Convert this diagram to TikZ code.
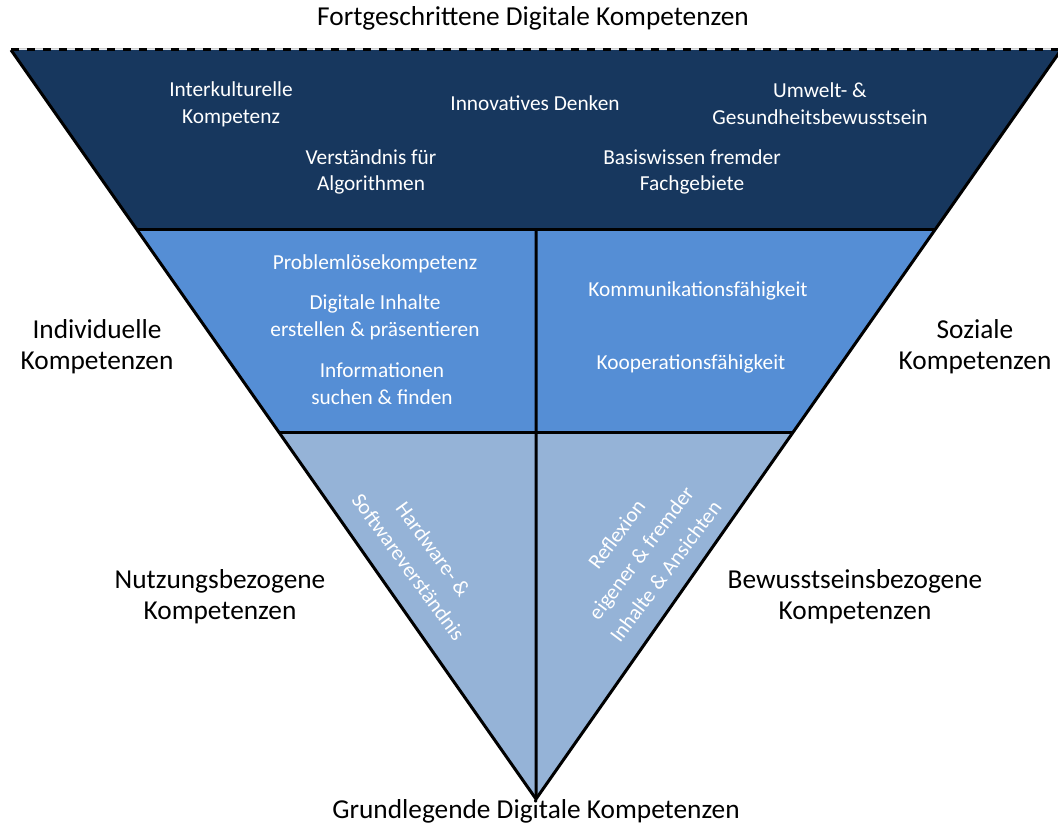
\documentclass[tikz,border=0pt]{standalone}
\usepackage{fontspec}
\setmainfont{Carlito}
\usepackage{xcolor}
\usetikzlibrary{positioning,calc}
\definecolor{darkband}{HTML}{17375E}
\definecolor{midband}{HTML}{558ED5}
\definecolor{lightband}{HTML}{95B3D7}

\begin{document}
\begin{tikzpicture}[x=0.75pt, y=-0.75pt,
        edge/.style={line width=2.25pt},
        toplimit/.style={line width=2.25pt, dash pattern=on 6pt off 6pt},
        inlabel/.style={text=white, align=center, inner sep=0pt, font=\fontsize{16}{20}\selectfont},
        tiltlabel/.style={inlabel, font=\fontsize{16}{23}\selectfont},
        outlabel/.style={align=center, inner sep=0pt, font=\fontsize{20.5}{23}\selectfont}
    ]
        \useasboundingbox (0,0) rectangle (1058,827);
        \coordinate (tl) at (11,50);
        \coordinate (tr) at (1061,50);
        \coordinate (tip) at (536,799);
        \coordinate (ml) at ($(tl)!0.239!(tip)$);
        \coordinate (mr) at ($(tr)!0.239!(tip)$);
        \coordinate (ll) at ($(tl)!0.511!(tip)$);
        \coordinate (lr) at ($(tr)!0.511!(tip)$);
        \coordinate (mm) at ($(ml)!0.5!(mr)$);

        % bands
        \fill [darkband] (tl) -- (tr) -- (mr) -- (ml) -- cycle;
        \fill [midband] (ml) -- (mr) -- (lr) -- (ll) -- cycle;
        \fill [lightband] (ll) -- (lr) -- (tip) -- cycle;

        \draw [edge] (ml) -- (mr);
        \draw [edge] (ll) -- (lr);
        \draw [edge] (mm) -- (tip);
        \draw [edge, line join=miter] (tl) -- (tip) -- (tr);
        \draw [gray!40, line width=0.5pt] ($(tl)+(0,-1.5)$) -- ($(tr)+(0,-1.5)$);
        \draw [toplimit] (tl) -- (tr);

        % outer labels
        \node [outlabel] (adv) at (533,18) {Fortgeschrittene Digitale Kompetenzen};
        \node [outlabel] (basic) at (536,811) {Grundlegende Digitale Kompetenzen};
        \node [outlabel] (indiv) at (97,347) {Individuelle\\Kompetenzen};
        \node [outlabel] (social) at (975,347) {Soziale\\Kompetenzen};
        \node [outlabel] (usage) at (220,597) {Nutzungsbezogene\\Kompetenzen};
        \node [outlabel] (aware) at (855,597) {Bewusstseinsbezogene\\Kompetenzen};

        % top band
        \node [inlabel] (intercult) at (231,104) {Interkulturelle\\Kompetenz};
        \node [inlabel] (innov) at (535,103) {Innovatives Denken};
        \node [inlabel] (environ) at (820,104) {Umwelt- \&\\Gesundheitsbewusstsein};
        \node [inlabel] (algo) at (371,172) {Verständnis für\\Algorithmen};
        \node [inlabel] (domain) at (692,172) {Basiswissen fremder\\Fachgebiete};

        % middle band
        \node [inlabel] (problem) at (375,264) {Problemlösekompetenz};
        \node [inlabel] (content) at (375,317) {Digitale Inhalte\\erstellen \& präsentieren};
        \node [inlabel] (search) at (382,384) {Informationen\\suchen \& finden};
        \node [inlabel] (commu) at (698,291) {Kommunikationsfähigkeit};
        \node [inlabel] (coop) at (691,364) {Kooperationsfähigkeit};

        % bottom band
        \node [tiltlabel, rotate=-54] (hwsw) at (421,558) {Hardware- \&\\Softwareverständnis};
        \node [tiltlabel, rotate=53] (reflect) at (641,553) {Reflexion\\eigener \& fremder\\Inhalte \& Ansichten};
    \end{tikzpicture}
\end{document}
